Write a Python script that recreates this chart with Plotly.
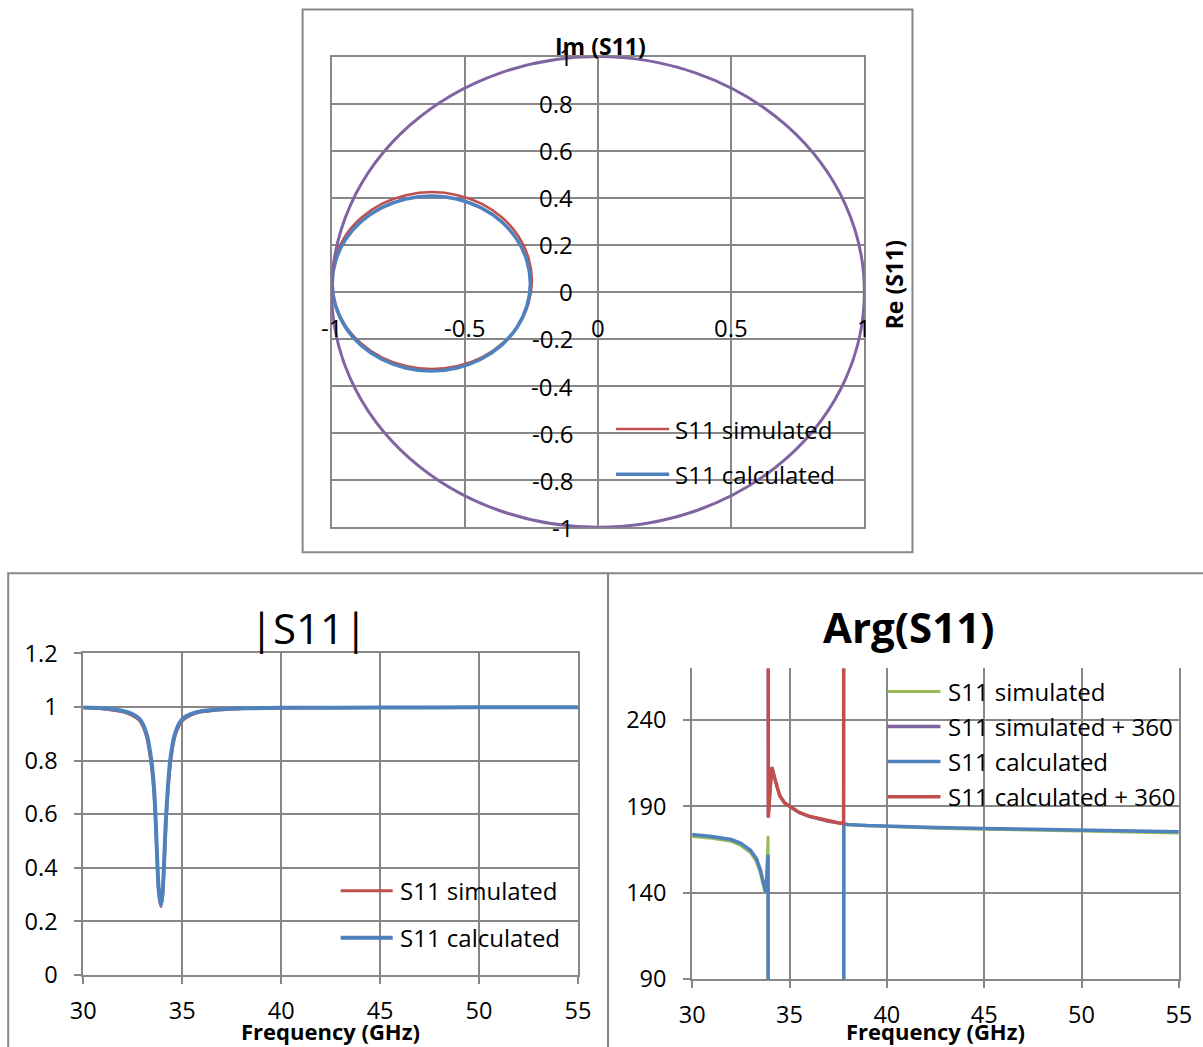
import plotly.graph_objects as go

W, H = 1203, 1047

# ---------------- data ----------------
# Smith-chart (complex plane) trace of S11
SMITH_SIM_RE = [-1.000, -0.987, -0.950, -0.890, -0.812, -0.721, -0.624, -0.527, -0.436, -0.358,
                -0.298, -0.261, -0.248, -0.261, -0.298, -0.358, -0.436, -0.527, -0.624, -0.721,
                -0.812, -0.890, -0.950, -0.987, -1.000]
SMITH_SIM_IM = [0.048, 0.145, 0.236, 0.314, 0.374, 0.411, 0.424, 0.411, 0.374, 0.314,
                0.236, 0.145, 0.048, -0.049, -0.140, -0.218, -0.278, -0.315, -0.328, -0.315,
                -0.278, -0.218, -0.140, -0.049, 0.048]
SMITH_CALC_RE = [-0.998, -0.985, -0.948, -0.889, -0.812, -0.722, -0.626, -0.530, -0.440, -0.363,
                 -0.304, -0.267, -0.254, -0.267, -0.304, -0.363, -0.440, -0.530, -0.626, -0.722,
                 -0.812, -0.889, -0.948, -0.985, -0.998]
SMITH_CALC_IM = [0.036, 0.132, 0.222, 0.299, 0.358, 0.395, 0.408, 0.395, 0.358, 0.299,
                 0.222, 0.132, 0.036, -0.060, -0.150, -0.227, -0.286, -0.323, -0.336, -0.323,
                 -0.286, -0.227, -0.150, -0.060, 0.036]
UNIT_CIRCLE_RADIUS = 1.0

SMITH_X_TICKS = [-1, -0.5, 0, 0.5, 1]
SMITH_X_LABELS = ["-1", "-0.5", "0", "0.5", "1"]
SMITH_Y_TICKS = [1, 0.8, 0.6, 0.4, 0.2, 0, -0.2, -0.4, -0.6, -0.8, -1]
SMITH_Y_LABELS = ["1", "0.8", "0.6", "0.4", "0.2", "0", "-0.2", "-0.4", "-0.6", "-0.8", "-1"]

# |S11| vs frequency
FREQ_MAG = [30, 31, 32, 32.5, 32.85, 33.2, 33.44, 33.55, 33.64, 33.74, 33.82, 33.92, 34.0,
            34.07, 34.19, 34.39, 34.63, 35, 35.5, 36, 37, 38, 40, 45, 50, 55]
MAG_SIM = [0.997, 0.993, 0.982, 0.968, 0.948, 0.888, 0.78, 0.70, 0.59, 0.41, 0.30, 0.255, 0.29,
           0.38, 0.58, 0.78, 0.89, 0.948, 0.972, 0.982, 0.99, 0.994, 0.996, 0.998, 0.999, 0.999]
MAG_CALC = [0.998, 0.995, 0.985, 0.973, 0.955, 0.90, 0.80, 0.72, 0.61, 0.42, 0.31, 0.26, 0.30,
            0.40, 0.60, 0.80, 0.90, 0.955, 0.975, 0.985, 0.992, 0.995, 0.997, 0.998, 0.999, 0.999]

# Arg(S11) vs frequency (degrees, wrapped to (-180, 180])
FREQ_ARG = [30, 31, 32, 32.5, 33, 33.3, 33.5, 33.65, 33.75, 33.8, 33.85, 33.9, 33.91, 34.0, 34.1,
            34.2, 34.35, 34.5, 34.75, 35, 35.5, 36, 36.5, 37, 37.5, 37.78, 37.79, 38, 39, 40,
            42.5, 45, 47.5, 50, 52.5, 55]
ARG_SIM = [172.6, 171.6, 169.8, 167.4, 163.2, 158.0, 151.5, 143.0, 139.5, 141.0, 158.0, 173.0,
           -176.0, -159.0, -147.0, -151.5, -158.5, -163.5, -167.8, -170.0, -173.6, -175.8,
           -177.2, -178.7, -179.6, -179.95, 179.8, 179.4, 178.8, 178.3, 177.4, 176.8, 176.2,
           175.6, 175.1, 174.6]
ARG_CALC = [173.7, 172.6, 170.8, 168.6, 164.6, 159.8, 153.4, 146.0, 140.5, 139.8, 152.0, 162.0,
            -176.5, -160.0, -147.5, -152.0, -159.0, -164.0, -168.0, -170.0, -173.5, -175.6,
            -177.0, -178.5, -179.4, -179.9, 179.95, 179.6, 179.0, 178.6, 177.8, 177.2, 176.6,
            176.1, 175.7, 175.3]
ARG_SIM_360 = [v + 360 for v in ARG_SIM]
ARG_CALC_360 = [v + 360 for v in ARG_CALC]

FREQ_TICKS = [30, 35, 40, 45, 50, 55]
MAG_TICKS = [0, 0.2, 0.4, 0.6, 0.8, 1, 1.2]
MAG_TICK_LABELS = ["0", "0.2", "0.4", "0.6", "0.8", "1", "1.2"]
ARG_TICKS = [90, 140, 190, 240]

# ---------------- style ----------------
RED = "#C0504D"
BLUE = "#4F81BD"
PURPLE = "#8064A2"
GREEN = "#9BBB59"
GRID = "#878787"
FONT = "Open Sans"

# the captured page comes out slightly shrunk about its centre; place things so they land
# where the reference has them
SX, OX = 0.977, 13.8
SY, OY = 0.968, 17.5


def px(x):
    return ((x - OX) / SX) / W


def py(y):
    return 1 - ((y - OY) / SY) / H


fig = go.Figure()

# Smith chart traces
fig.add_trace(go.Scatter(x=SMITH_SIM_RE, y=SMITH_SIM_IM, mode="lines", name="S11 simulated",
                         line=dict(color=RED, width=2.5, shape="spline"), xaxis="x", yaxis="y",
                         showlegend=False))
fig.add_trace(go.Scatter(x=SMITH_CALC_RE, y=SMITH_CALC_IM, mode="lines", name="S11 calculated",
                         line=dict(color=BLUE, width=3.5, shape="spline"), xaxis="x", yaxis="y",
                         showlegend=False))

# |S11|
fig.add_trace(go.Scatter(x=FREQ_MAG, y=MAG_SIM, mode="lines", name="S11 simulated",
                         line=dict(color=RED, width=3, shape="spline", smoothing=0.8),
                         xaxis="x2", yaxis="y2", showlegend=False))
fig.add_trace(go.Scatter(x=FREQ_MAG, y=MAG_CALC, mode="lines", name="S11 calculated",
                         line=dict(color=BLUE, width=4, shape="spline", smoothing=0.8),
                         xaxis="x2", yaxis="y2", showlegend=False))

# Arg(S11)
arg_series = [
    ("S11 simulated", ARG_SIM, GREEN, 3),
    ("S11 simulated + 360", ARG_SIM_360, PURPLE, 3),
    ("S11 calculated", ARG_CALC, BLUE, 3.5),
    ("S11 calculated + 360", ARG_CALC_360, RED, 3.5),
]
for name, vals, col, wdt in arg_series:
    fig.add_trace(go.Scatter(x=FREQ_ARG, y=vals, mode="lines", name=name,
                             line=dict(color=col, width=wdt), xaxis="x3", yaxis="y3",
                             showlegend=False))

shapes = []
annotations = []

# unit circle on the Smith chart
shapes.append(dict(type="circle", xref="x", yref="y",
                   x0=-UNIT_CIRCLE_RADIUS, x1=UNIT_CIRCLE_RADIUS,
                   y0=-UNIT_CIRCLE_RADIUS, y1=UNIT_CIRCLE_RADIUS,
                   line=dict(color=PURPLE, width=3), layer="above"))

# chart frames
for x0, y0, x1, y1 in [(303, 10, 912, 552), (9, 573, 608, 1070), (608, 573, 1230, 1070)]:
    shapes.append(dict(type="rect", xref="paper", yref="paper", x0=px(x0), x1=px(x1),
                       y0=py(y1), y1=py(y0), line=dict(color=GRID, width=2),
                       fillcolor="rgba(0,0,0,0)", layer="below"))

# Smith tick labels along the axes crossing at the origin
for v, lab in zip(SMITH_Y_TICKS, SMITH_Y_LABELS):
    annotations.append(dict(x=0, y=v, xref="x", yref="y", text=lab, showarrow=False,
                            xanchor="right", yanchor="middle", xshift=-23,
                            font=dict(family=FONT, size=24, color="black")))
for v, lab in zip(SMITH_X_TICKS, SMITH_X_LABELS):
    annotations.append(dict(x=v, y=0, xref="x", yref="y", text=lab, showarrow=False,
                            xanchor="center", yanchor="middle", yshift=-36,
                            font=dict(family=FONT, size=24, color="black")))

annotations.append(dict(x=px(600), y=py(46), xref="paper", yref="paper", text="<b>Im (S11)</b>",
                        showarrow=False, xanchor="center", yanchor="middle",
                        font=dict(family=FONT, size=23, color="black")))
annotations.append(dict(x=px(893), y=py(285), xref="paper", yref="paper", text="<b>Re (S11)</b>",
                        showarrow=False, xanchor="center", yanchor="middle", textangle=-90,
                        font=dict(family=FONT, size=23, color="black")))

# chart titles
annotations.append(dict(x=px(309), y=py(627), xref="paper", yref="paper", text="|S11|",
                        showarrow=False, xanchor="center", yanchor="middle",
                        font=dict(family=FONT, size=42, color="black")))
annotations.append(dict(x=px(908), y=py(626), xref="paper", yref="paper", text="<b>Arg(S11)</b>",
                        showarrow=False, xanchor="center", yanchor="middle",
                        font=dict(family=FONT, size=42, color="black")))
for cx in (331, 935):
    annotations.append(dict(x=px(cx), y=py(1030), xref="paper", yref="paper",
                            text="<b>Frequency (GHz)</b>", showarrow=False,
                            xanchor="center", yanchor="middle",
                            font=dict(family=FONT, size=22, color="black")))

# legends (drawn as line samples + text)
legends = [
    ((616, 669, 673), [("S11 simulated", RED, 2.5, 429), ("S11 calculated", BLUE, 3.5, 474)]),
    ((341, 393, 398), [("S11 simulated", RED, 3, 890), ("S11 calculated", BLUE, 4, 937)]),
    ((887, 940, 945), [("S11 simulated", GREEN, 3, 691), ("S11 simulated + 360", PURPLE, 3.5, 726),
                       ("S11 calculated", BLUE, 3.5, 761), ("S11 calculated + 360", RED, 3.5, 796)]),
]
for (lx0, lx1, tx), items in legends:
    for name, col, wdt, yy in items:
        shapes.append(dict(type="line", xref="paper", yref="paper", x0=px(lx0), x1=px(lx1),
                           y0=py(yy), y1=py(yy), line=dict(color=col, width=wdt), layer="above"))
        annotations.append(dict(x=px(tx), y=py(yy), xref="paper", yref="paper", text=name,
                                showarrow=False, xanchor="left", yanchor="middle",
                                font=dict(family=FONT, size=24, color="black")))

axis_common = dict(showgrid=True, gridcolor=GRID, gridwidth=2, showline=True,
                   linecolor=GRID, linewidth=2, zeroline=False, fixedrange=True,
                   tickfont=dict(family=FONT, size=23.5, color="black"))

fig.update_layout(
    width=W, height=H,
    margin=dict(l=0, r=0, t=0, b=0),
    paper_bgcolor="white", plot_bgcolor="white",
    font=dict(family=FONT, color="black"),
    showlegend=False,
    shapes=shapes, annotations=annotations,
    xaxis=dict(domain=[px(332), px(864)], range=[-1, 1], tickvals=SMITH_X_TICKS,
               showticklabels=False, mirror=True, ticks="", anchor="y", **axis_common),
    yaxis=dict(domain=[py(527), py(57)], range=[-1, 1], tickvals=SMITH_Y_TICKS,
               showticklabels=False, mirror=True, ticks="", anchor="x", **axis_common),
    xaxis2=dict(domain=[px(84), px(578)], range=[30, 55], tickvals=FREQ_TICKS, mirror=True,
                ticks="outside", ticklen=7, tickcolor=GRID, tickwidth=2,
                ticklabelstandoff=7, anchor="y2", **axis_common),
    yaxis2=dict(domain=[py(974), py(653)], range=[0, 1.2], tickvals=MAG_TICKS,
                ticktext=MAG_TICK_LABELS, mirror=True, ticks="outside", ticklen=7,
                tickcolor=GRID, tickwidth=2, ticklabelstandoff=12, anchor="x2", **axis_common),
    xaxis3=dict(domain=[px(692), px(1178)], range=[30, 55], tickvals=FREQ_TICKS, mirror=False,
                ticks="outside", ticklen=7, tickcolor=GRID, tickwidth=2,
                ticklabelstandoff=7, anchor="y3", **axis_common),
    yaxis3=dict(domain=[py(978), py(668)], range=[90, 270], tickvals=ARG_TICKS, mirror=True,
                ticks="outside", ticklen=7, tickcolor=GRID, tickwidth=2,
                ticklabelstandoff=12, anchor="x3", **axis_common),
)

fig.write_html(
    "out.html",
    config={"displayModeBar": False},
    post_script="document.documentElement.style.overflow='hidden';"
                "document.body.style.margin='0';document.body.style.overflow='hidden';",
)
